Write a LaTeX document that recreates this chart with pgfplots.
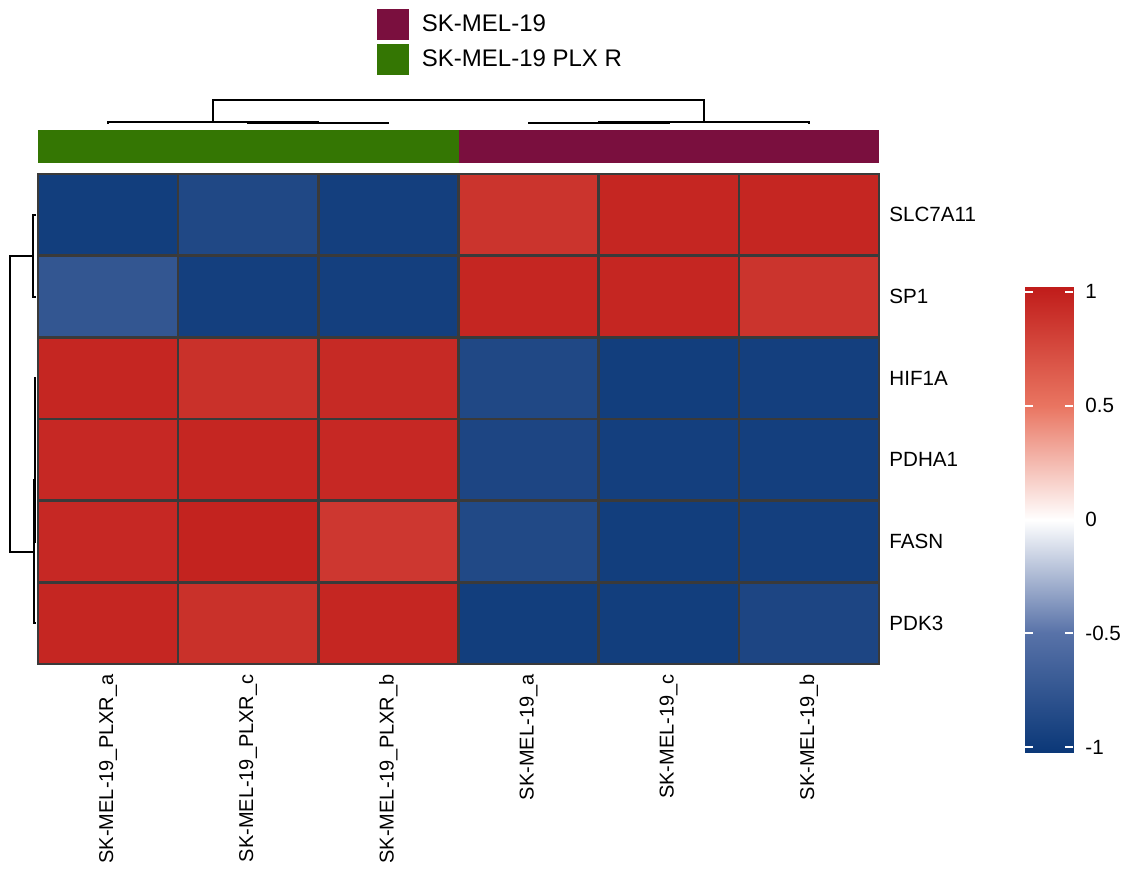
\documentclass[border=0pt]{standalone}
\usepackage{fontspec}
\setmainfont{Liberation Sans}
\usepackage{pgfplots}
\pgfplotsset{compat=1.18}
\definecolor{annG}{RGB}{52,118,3}
\definecolor{annM}{RGB}{122,15,62}
\definecolor{gridc}{RGB}{58,58,58}
\pgfplotsset{colormap={hm}{rgb255(0pt)=(11,56,120); rgb255(52pt)=(88,114,168); rgb255(102pt)=(255,255,255); rgb255(152pt)=(233,117,97); rgb255(204pt)=(192,28,26)}}
\begin{document}
\begin{tikzpicture}
\useasboundingbox (0,0) rectangle (563.5pt,434pt);
% ---------------- heatmap ----------------
\begin{axis}[
  at={(19pt,102pt)}, anchor=south west, scale only axis,
  width=420.5pt, height=245pt,
  xmin=-0.5, xmax=5.5, ymin=-0.5, ymax=5.5, y dir=reverse, enlargelimits=false,
  colormap name=hm,
  point meta min=-1.02, point meta max=1.02,
  xtick={0,1,2,3,4,5},
  xticklabels={SK-MEL-19\_PLXR\_a, SK-MEL-19\_PLXR\_c, SK-MEL-19\_PLXR\_b, SK-MEL-19\_a, SK-MEL-19\_c, SK-MEL-19\_b},
  ytick={0,1,2,3,4,5},
  yticklabels={SLC7A11, SP1, HIF1A, PDHA1, FASN, PDK3},
  yticklabel pos=right,
  major tick length=0pt, minor tick length=0pt,
  minor xtick={0.5,1.5,2.5,3.5,4.5}, minor ytick={0.5,1.5,2.5,3.5,4.5},
  xminorgrids=true, yminorgrids=true,
  minor grid style={gridc, line width=1.2pt},
  axis line style={gridc, line width=1.4pt},
  axis on top,
  xticklabel style={rotate=90, anchor=east, inner sep=0pt, font=\fontsize{10}{12}\selectfont},
  xticklabel shift=5pt,
  yticklabel style={anchor=west, inner sep=0pt, font=\fontsize{10.3}{12}\selectfont},
  yticklabel shift=5pt,
]
\addplot[matrix plot*, mesh/cols=6, point meta=explicit] table[meta=v] {
x y v
0 0 -0.97
1 0 -0.88
2 0 -0.96
3 0 0.88
4 0 0.96
5 0 0.96
0 1 -0.75
1 1 -0.96
2 1 -0.96
3 1 0.96
4 1 0.96
5 1 0.88
0 2 0.96
1 2 0.90
2 2 0.94
3 2 -0.88
4 2 -0.97
5 2 -0.96
0 3 0.95
1 3 0.96
2 3 0.95
3 3 -0.90
4 3 -0.96
5 3 -0.96
0 4 0.95
1 4 0.98
2 4 0.86
3 4 -0.87
4 4 -0.97
5 4 -0.96
0 5 0.96
1 5 0.90
2 5 0.96
3 5 -0.97
4 5 -0.97
5 5 -0.90
};
\end{axis}
% ---------------- colour key ----------------
\begin{axis}[
  at={(512.5pt,58pt)}, anchor=south west, scale only axis,
  width=24pt, height=232.5pt,
  xmin=0, xmax=1, ymin=-1.02, ymax=1.02, enlargelimits=false,
  colormap name=hm, point meta min=-1.02, point meta max=1.02,
  xtick=\empty,
  ytick={-1,-0.5,0,0.5,1}, yticklabels={-1,-0.5,0,0.5,1},
  ytick pos=both, yticklabel pos=right,
  tick align=inside, major tick length=4pt,
  tick style={white, line width=1pt},
  axis line style={draw=none},
  axis on top,
  yticklabel style={anchor=west, inner sep=0pt, font=\fontsize{10.3}{12}\selectfont},
  yticklabel shift=6pt,
]
\addplot[surf, shader=interp, mesh/cols=2, point meta=explicit] table[meta=c] {
x y c
0 -1.02 -1.02
1 -1.02 -1.02
0 -0.5 -0.5
1 -0.5 -0.5
0 0 0
1 0 0
0 0.5 0.5
1 0.5 0.5
0 1.02 1.02
1 1.02 1.02
};
\end{axis}
% ---------------- annotation bar + legend ----------------
\begin{axis}[
  at={(19pt,352.5pt)}, anchor=south west, scale only axis,
  width=420.5pt, height=16.5pt,
  xmin=-0.5, xmax=5.5, ymin=0, ymax=1, hide axis, clip=false,
  legend image code/.code={\fill[#1] (0pt,-7.75pt) rectangle (16pt,7.75pt); \path (22.5pt,0pt);},
  legend style={at={(0.403,4.667)}, anchor=north west, draw=none, fill=none,
    inner sep=0pt, outer sep=0pt, row sep=2pt,
    nodes={inner sep=0pt, anchor=west, font=\fontsize{12}{14}\selectfont}},
]
\addplot[fill=annM, draw=none] coordinates {(2.5,1) (5.5,1)} \closedcycle;
\addplot[fill=annG, draw=none] coordinates {(-0.5,1) (2.5,1)} \closedcycle;
\legend{SK-MEL-19, SK-MEL-19 PLX R}
\end{axis}
% ---------------- column dendrogram ----------------
\begin{axis}[
  at={(19pt,372pt)}, anchor=south west, scale only axis,
  width=420.5pt, height=12pt,
  xmin=-0.5, xmax=5.5, ymin=0, ymax=24, hide axis, clip=false,
]
\addplot[black, line width=1pt] coordinates {(1,0) (1,0.8) (2,0.8) (2,0)};
\addplot[black, line width=1pt] coordinates {(0,0) (0,1.6) (1.5,1.6) (1.5,0.8)};
\addplot[black, line width=1pt] coordinates {(3,0) (3,0.8) (4,0.8) (4,0)};
\addplot[black, line width=1pt] coordinates {(3.5,0.8) (3.5,1.6) (5,1.6) (5,0)};
\addplot[black, line width=1pt] coordinates {(0.75,1.6) (0.75,24) (4.25,24) (4.25,1.6)};
\end{axis}
% ---------------- row dendrogram ----------------
\begin{axis}[
  at={(5pt,102pt)}, anchor=south west, scale only axis,
  width=13pt, height=245pt,
  xmin=0, xmax=26, x dir=reverse, ymin=-0.5, ymax=5.5, y dir=reverse,
  hide axis, clip=false,
]
\addplot[black, line width=1pt] coordinates {(0,0) (3,0) (3,1) (0,1)};
\addplot[black, line width=1pt] coordinates {(0,2) (1,2) (1,3) (0,3)};
\addplot[black, line width=1pt] coordinates {(1,2.5) (1.5,2.5) (1.5,4) (0,4)};
\addplot[black, line width=1pt] coordinates {(1.5,3.25) (2,3.25) (2,5) (0,5)};
\addplot[black, line width=1pt] coordinates {(3,0.5) (26,0.5) (26,4.125) (2,4.125)};
\end{axis}
\end{tikzpicture}
\end{document}
